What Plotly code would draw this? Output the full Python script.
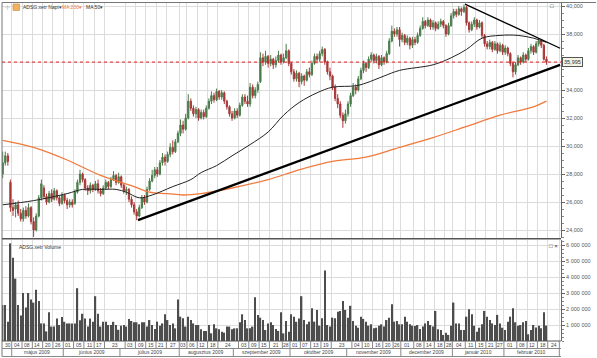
import plotly.graph_objects as go
import pandas as pd

# ---------------- data ----------------
first_day = "2009-04-27"
holidays = ["2009-05-01", "2009-12-24", "2009-12-25", "2009-12-31", "2010-01-01"]

open_ = [28.0,28.8,29.3,27.4,25.6,25.5,25.8,25.2,24.8,25.4,
 25.0,25.6,24.6,24.0,25.0,26.3,27.0,26.4,26.0,26.6,
 26.2,26.8,26.3,25.9,26.5,26.1,25.8,26.0,25.9,26.7,
 27.4,28.0,27.6,27.0,26.8,27.2,26.9,27.3,26.8,26.6,
 27.0,27.4,27.1,27.6,27.9,27.4,27.8,27.2,26.8,26.9,
 26.2,25.8,25.3,25.0,25.6,26.3,26.0,26.9,27.5,27.9,
 28.3,28.0,28.8,29.2,28.9,29.4,29.9,29.6,30.3,30.9,
 31.5,31.2,32.0,33.2,32.7,32.3,32.6,32.0,32.4,32.1,
 32.7,33.2,33.6,33.3,33.9,33.5,33.8,33.2,32.8,32.3,
 32.0,32.5,32.2,32.9,33.5,33.2,33.0,34.2,33.6,34.0,
 34.6,36.3,36.0,36.4,35.9,36.2,35.8,36.1,36.5,36.0,
 36.3,36.8,35.9,35.3,34.8,35.2,34.6,35.0,34.7,35.3,
 35.1,35.9,36.4,36.2,36.6,36.9,36.0,35.3,35.0,34.2,
 33.4,33.0,32.2,31.8,32.3,33.0,33.6,34.2,34.0,34.8,
 35.4,35.9,35.6,36.2,36.5,36.1,36.4,35.8,36.3,36.0,
 36.6,37.5,38.2,38.0,38.3,37.6,37.9,37.4,37.7,37.2,
 37.6,37.4,37.9,38.4,38.9,38.6,39.0,38.5,38.8,38.4,
 38.7,38.9,38.6,38.0,38.6,39.3,39.6,39.4,39.8,39.6,
 39.9,38.8,38.3,38.7,39.0,38.5,38.8,37.9,37.3,37.1,
 37.4,36.9,37.3,36.8,37.2,36.7,37.0,36.6,35.9,35.3,
 35.8,36.3,36.0,36.5,36.2,36.8,37.1,36.7,37.3,37.5,
 37.2,36.2]
high = [29.6,29.6,29.5,27.6,26.2,26.0,26.1,25.5,25.6,25.7,
 25.9,25.7,24.9,25.2,26.5,27.6,27.2,26.6,26.8,26.9,
 27.0,26.9,26.5,26.7,26.6,26.3,26.2,26.2,26.9,27.6,
 28.3,28.1,27.7,27.2,27.4,27.3,27.5,27.6,27.0,27.2,
 27.6,27.5,27.8,28.2,28.0,28.1,27.9,27.3,27.1,27.0,
 26.4,26.0,25.5,25.8,26.5,26.5,27.1,27.7,28.3,28.5,
 28.5,29.0,29.5,29.4,29.6,30.2,30.4,30.5,31.1,31.9,
 31.8,32.3,33.7,33.4,32.9,32.8,32.7,32.6,32.6,32.9,
 33.4,33.9,33.8,34.1,34.0,34.0,33.9,33.3,32.9,32.5,
 32.7,32.7,33.1,33.7,33.7,33.6,34.5,34.4,34.2,34.6,
 36.7,36.6,36.8,36.5,36.5,36.3,36.4,36.8,36.6,36.6,
 37.3,36.9,36.0,35.5,35.4,35.3,35.2,35.1,35.5,35.6,
 36.1,36.6,36.6,36.8,37.1,37.0,36.1,35.6,35.1,34.4,
 33.7,33.2,32.4,32.6,33.2,33.8,34.5,34.4,35.0,35.6,
 36.1,36.0,36.4,36.7,36.6,36.6,36.5,36.5,36.4,36.8,
 37.7,38.6,38.4,38.5,38.5,38.1,38.0,37.9,37.8,37.8,
 37.8,38.1,38.6,39.2,39.0,39.2,39.1,39.0,38.9,38.9,
 39.1,39.0,38.7,38.8,39.5,39.8,39.8,40.0,39.9,40.1,
 40.0,38.9,38.9,39.2,39.1,39.0,38.9,38.0,37.5,37.6,
 37.5,37.5,37.4,37.4,37.3,37.2,37.1,36.7,36.0,36.0,
 36.5,36.4,36.7,36.6,37.0,37.3,37.2,37.5,37.7,37.6,
 37.3,36.4]
low = [27.7,28.6,28.6,25.3,25.0,24.9,25.0,24.6,24.6,24.8,
 24.9,24.4,23.5,23.9,24.9,26.1,26.2,25.8,25.9,26.0,
 26.1,26.1,25.7,25.8,25.9,25.5,25.6,25.6,25.8,26.6,
 27.2,27.4,26.8,26.5,26.6,26.7,26.8,26.6,26.4,26.5,
 26.9,26.9,27.0,27.5,27.2,27.3,27.0,26.6,26.5,26.0,
 25.6,25.1,24.7,24.9,25.5,25.8,25.9,26.8,27.4,27.7,
 27.8,27.9,28.6,28.6,28.8,29.2,29.4,29.5,30.2,30.7,
 30.9,31.1,31.9,32.5,32.1,32.0,31.8,31.9,31.9,32.0,
 32.6,33.0,33.1,33.2,33.3,33.3,33.0,32.6,32.1,31.8,
 31.9,32.0,32.1,32.8,33.0,32.8,32.8,33.4,33.4,33.8,
 34.5,35.7,35.8,35.6,35.7,35.5,35.6,36.0,35.8,35.9,
 36.2,35.7,35.1,34.6,34.6,34.2,34.4,34.3,34.6,34.9,
 35.0,35.8,35.9,36.0,36.4,35.8,35.1,34.7,34.0,33.2,
 32.7,32.0,31.3,31.6,32.1,32.8,33.5,33.7,33.9,34.7,
 35.2,35.3,35.5,36.0,35.9,35.9,35.5,35.7,35.8,35.9,
 36.5,37.4,37.8,37.8,37.1,37.4,37.2,37.2,36.9,37.0,
 37.2,37.3,37.8,38.3,38.4,38.5,38.3,38.3,38.2,38.3,
 38.5,38.4,37.8,37.9,38.5,39.1,39.2,39.3,39.3,39.5,
 38.6,38.1,38.2,38.5,38.3,38.4,37.7,37.1,36.9,36.9,
 36.7,36.8,36.6,36.7,36.5,36.5,36.4,35.7,34.9,35.1,
 35.7,35.8,35.9,36.0,36.1,36.6,36.5,36.6,37.1,37.0,
 36.1,35.8]
close = [28.8,29.3,28.9,25.6,25.4,25.8,25.2,24.8,25.4,25.0,
 25.6,24.6,24.0,25.0,26.3,27.3,26.4,26.0,26.6,26.2,
 26.8,26.3,25.9,26.5,26.1,25.8,26.0,25.8,26.7,27.4,
 28.0,27.6,27.0,26.8,27.2,26.9,27.3,26.8,26.6,27.0,
 27.4,27.1,27.6,27.9,27.4,27.8,27.2,26.8,26.9,26.2,
 25.8,25.3,25.0,25.6,26.3,26.0,26.9,27.5,27.9,28.3,
 28.0,28.8,29.2,28.9,29.4,29.9,29.6,30.3,30.9,31.5,
 31.2,32.0,33.2,32.7,32.3,32.6,32.0,32.4,32.1,32.7,
 33.2,33.6,33.3,33.9,33.5,33.8,33.2,32.8,32.3,32.0,
 32.5,32.2,32.9,33.5,33.2,33.0,34.2,33.6,34.0,34.4,
 36.3,36.0,36.4,35.9,36.2,35.8,36.1,36.5,36.0,36.3,
 36.8,35.9,35.3,34.8,35.2,34.6,35.0,34.7,35.3,35.1,
 35.9,36.4,36.2,36.6,36.9,36.0,35.3,35.0,34.2,33.4,
 33.0,32.2,31.8,32.3,33.0,33.6,34.2,34.0,34.8,35.4,
 35.9,35.6,36.2,36.5,36.1,36.4,35.8,36.3,36.0,36.6,
 37.5,38.2,38.0,38.3,37.6,37.9,37.4,37.7,37.2,37.6,
 37.4,37.9,38.4,38.9,38.6,39.0,38.5,38.8,38.4,38.7,
 38.9,38.6,38.0,38.6,39.3,39.6,39.4,39.8,39.6,39.9,
 38.8,38.3,38.7,39.0,38.5,38.8,37.9,37.3,37.1,37.4,
 36.9,37.3,36.8,37.2,36.7,37.0,36.6,35.9,35.3,35.8,
 36.3,36.0,36.5,36.2,36.8,37.1,36.7,37.3,37.5,37.2,
 36.2,35.995]
volume_mln = [2.25,2.25,1.2,6.1,5.2,3.9,2.25,1.6,3.0,2.1,
 3.0,2.6,2.4,3.2,2.5,1.1,1.1,0.6,1.8,0.9,
 0.9,1.4,1.0,1.5,1.2,1.1,1.1,1.1,1.1,3.3,
 1.3,1.7,1.4,0.9,1.4,1.2,2.8,1.7,0.9,1.2,
 1.2,1.0,1.0,1.2,1.0,0.7,0.96,1.0,0.9,1.38,
 1.25,1.17,1.17,1.04,1.17,1.17,0.9,1.31,1.0,0.75,
 1.21,0.96,1.1,1.67,1.31,1.0,1.1,0.79,2.6,1.52,
 1.42,0.9,1.52,1.31,1.1,1.0,1.0,0.73,0.63,0.63,
 1.0,0.48,1.04,0.79,0.73,0.58,0.52,0.9,0.9,0.73,
 0.79,0.79,1.17,1.67,1.31,0.79,0.79,0.9,2.73,1.63,
 1.46,1.31,0.69,1.1,1.17,1.0,0.75,0.63,1.79,0.48,
 1.25,0.58,1.67,1.52,1.2,1.4,
 2.8,1.31,1.04,1.21,2.04,1.21,1.94,0.96,1.42,4.4,
 1.0,0.9,1.46,1.42,1.83,1.88,2.5,1.94,1.46,2.2,
 1.25,0.96,0.83,1.52,1.38,1.21,0.96,1.04,0.79,0.83,
 0.96,1.04,0.9,1.31,1.46,2.3,1.21,1.25,1.04,1.04,
 1.52,1.21,1.04,0.96,0.94,1.0,0.75,0.9,1.1,1.25,
 1.0,0.9,1.88,0.73,0.69,0.38,0.52,0.38,0.96,2.4,
 1.1,1.1,0.69,0.69,1.52,1.98,1.67,0.96,0.58,0.83,
 1.04,1.88,1.52,1.31,1.1,1.0,1.63,1.1,0.83,0.69,
 1.21,1.52,2.04,1.17,0.96,1.0,1.17,1.25,0.42,0.69,
 1.0,0.85,0.96,0.79,1.8,0.96]

ma200_idx = [0, 12, 25, 38, 51, 57, 64, 70, 77, 89, 103, 115, 128, 141, 154, 167, 180, 193, 206, 211]
ma200_val = [30.4, 29.9, 29.0, 27.9, 27.1, 26.7, 26.6, 26.5, 26.6, 27.0, 27.6, 28.3, 28.9, 29.2, 29.9, 30.6, 31.4, 32.2, 32.8, 33.2]
ma50_idx = [0, 12, 25, 31, 38, 44, 48, 53, 58, 66, 73, 77, 83, 89, 96, 103, 109, 115, 122, 128, 137, 141, 148, 154, 167, 174, 180, 186, 193, 200, 206, 211]
ma50_val = [25.8, 26.1, 26.6, 26.9, 26.9, 26.9, 26.7, 26.3, 26.5, 27.1, 27.6, 28.1, 28.6, 29.3, 30.1, 31.0, 32.2, 33.1, 33.8, 34.2, 34.3, 34.5, 35.0, 35.4, 35.8, 36.3, 36.9, 37.7, 37.9, 37.9, 37.7, 37.4]

trend_up_idx = [52.5, 216.3]
trend_up_val = [24.71, 35.79]
trend_dn_idx = [179.4, 216.3]
trend_dn_val = [40.14, 36.98]

last_price = 35.995
last_price_text = "35,995"

price_ticks = [24, 26, 28, 30, 32, 34, 36, 38, 40]
# the 36,000 label sits under the last-price box in the reference, so it is left blank
price_tick_text = ["24,000", "26,000", "28,000", "30,000", "32,000", "34,000", "", "38,000", "40,000"]
vol_ticks = [1e6, 2e6, 3e6, 4e6, 5e6, 6e6]
vol_tick_text = ["1 000 000", "2 000 000", "3 000 000", "4 000 000", "5 000 000", "6 000 000"]

day_label_dates = ["2009-05-04","2009-05-08","2009-05-14","2009-05-20","2009-05-26",
 "2009-06-01","2009-06-05","2009-06-11","2009-06-17","2009-06-23",
 "2009-07-03","2009-07-09","2009-07-15","2009-07-21","2009-07-27",
 "2009-08-03","2009-08-06","2009-08-12","2009-08-18","2009-08-24",
 "2009-09-03","2009-09-09","2009-09-15","2009-09-21","2009-09-28",
 "2009-10-01","2009-10-07","2009-10-13","2009-10-19","2009-10-23",
 "2009-11-04","2009-11-10","2009-11-16","2009-11-20","2009-11-26",
 "2009-12-01","2009-12-08","2009-12-14","2009-12-18","2009-12-28",
 "2010-01-04","2010-01-11","2010-01-15","2010-01-21","2010-01-27",
 "2010-02-01","2010-02-08","2010-02-12","2010-02-18","2010-02-24"]
month_starts = ["2009-05-04","2009-06-01","2009-07-01","2009-08-03","2009-09-01","2009-10-01",
                "2009-11-02","2009-12-01","2010-01-04","2010-02-01"]
month_names = ["május 2009","június 2009","július 2009","augusztus 2009","szeptember 2009",
               "október 2009","november 2009","december 2009","január 2010","február 2010"]

# ---------------- trading-day index ----------------
days = [d.strftime("%Y-%m-%d") for d in pd.bdate_range(first_day, "2010-03-05")]
days = [d for d in days if d not in holidays]
idx_of = {d: i for i, d in enumerate(days)}
n = len(close)
xi = list(range(n))
vol = [v * 1e6 for v in volume_mln]

# ---------------- geometry ----------------
W, H = 597, 358
ML, MR, MT, MB = 2, 36, 3, 17
PW, PH = W - ML - MR, H - MT - MB
XR = [-0.272, 216.65]

def px(xp):
    return (xp - ML) / PW

def py(yp):
    return (H - MB - yp) / PH

FONT = "Liberation Sans, Arial, sans-serif"
GRID = "#dcdcdc"

fig = go.Figure()

fig.add_trace(go.Bar(x=xi, y=vol, width=0.55, marker=dict(color="#4d4d4d", line=dict(width=0)),
                     xaxis="x2", yaxis="y2", hoverinfo="skip"))
fig.add_trace(go.Scatter(x=ma200_idx, y=ma200_val, mode="lines", line=dict(color="#f07a3c", width=1.3, shape="spline"),
                         xaxis="x", yaxis="y", hoverinfo="skip"))
fig.add_trace(go.Scatter(x=ma50_idx, y=ma50_val, mode="lines", line=dict(color="#222222", width=1, shape="spline"),
                         xaxis="x", yaxis="y", hoverinfo="skip"))
fig.add_trace(go.Candlestick(x=xi, open=open_, high=high, low=low, close=close,
                             increasing=dict(line=dict(color="#4a7d4a", width=1), fillcolor="#4a7d4a"),
                             decreasing=dict(line=dict(color="#a83838", width=1), fillcolor="#a83838"),
                             whiskerwidth=0, xaxis="x", yaxis="y", hoverinfo="skip"))
fig.add_trace(go.Scatter(x=trend_up_idx, y=trend_up_val, mode="lines", line=dict(color="#000000", width=2.3),
                         xaxis="x", yaxis="y", hoverinfo="skip"))
fig.add_trace(go.Scatter(x=trend_dn_idx, y=trend_dn_val, mode="lines", line=dict(color="#000000", width=1.3),
                         xaxis="x", yaxis="y", hoverinfo="skip"))

# cell boundaries for day labels
label_idx = [idx_of[d] for d in day_label_dates]
bounds = [li - 0.5 for li in label_idx] + [216.0]
month_idx = [idx_of[d] - 0.5 for d in month_starts] + [216.0]

price_top = 40 + 3 / 14.0
price_bot = 40 - (238 - 6) / 14.0

axis_common = dict(range=XR, showgrid=True, gridcolor=GRID, gridwidth=1, tickvals=bounds,
                   showticklabels=False, ticks="", zeroline=False, showline=False, fixedrange=True,
                   automargin=False)
fig.update_layout(
    width=W, height=H, margin=dict(l=ML, r=MR, t=MT, b=MB, autoexpand=False),
    paper_bgcolor="white", plot_bgcolor="white", showlegend=False,
    font=dict(family=FONT, size=6, color="#444"),
    xaxis=dict(domain=[0, 1], anchor="y", rangeslider=dict(visible=False), **axis_common),
    xaxis2=dict(domain=[0, 1], anchor="y2", matches="x", **axis_common),
    yaxis=dict(domain=[py(238), 1], range=[price_bot, price_top], side="right", automargin=False,
               tickvals=price_ticks, ticktext=price_tick_text, showgrid=True, gridcolor=GRID,
               ticks="outside", ticklen=3, tickcolor="#666", showline=True, linecolor="#666",
               linewidth=1, zeroline=False, tickfont=dict(size=5.5, color="#555"),
               minor=dict(ticks="outside", ticklen=1.5, dtick=0.5, tickcolor="#888", showgrid=False)),
    yaxis2=dict(domain=[0, py(240)], range=[0, 6.3125e6], side="right", automargin=False,
                tickvals=vol_ticks, ticktext=vol_tick_text, showgrid=True, gridcolor=GRID,
                ticks="outside", ticklen=3, tickcolor="#666", showline=True, linecolor="#666",
                linewidth=1, zeroline=False, tickfont=dict(size=5.5, color="#555"),
                minor=dict(ticks="outside", ticklen=1.5, dtick=250000, tickcolor="#888", showgrid=False)),
)

shapes = []
# last price dotted line
shapes.append(dict(type="line", xref="paper", x0=0, x1=1, yref="y", y0=last_price, y1=last_price,
                   line=dict(color="#e02020", width=1, dash="dot")))
# frame
shapes.append(dict(type="line", xref="paper", yref="paper", x0=0, x1=px(596), y0=py(2.5), y1=py(2.5),
                   line=dict(color="#777", width=1)))
shapes.append(dict(type="line", xref="paper", yref="paper", x0=0, x1=0, y0=py(356.5), y1=py(2.5),
                   line=dict(color="#777", width=1)))
# panel separator
shapes.append(dict(type="line", xref="paper", yref="paper", x0=0, x1=1, y0=py(238.8), y1=py(238.8),
                   line=dict(color="#555", width=1.5)))
# bottom axis rows
for yy, c in [(341, "#555"), (348.5, "#888"), (356.5, "#888")]:
    shapes.append(dict(type="line", xref="paper", yref="paper", x0=0, x1=1, y0=py(yy), y1=py(yy),
                       line=dict(color=c, width=1)))
for b in bounds:
    shapes.append(dict(type="line", xref="x", yref="paper", x0=b, x1=b, y0=py(341), y1=py(348.5),
                       line=dict(color="#888", width=1)))
for b in month_idx:
    shapes.append(dict(type="line", xref="x", yref="paper", x0=b, x1=b, y0=py(348.5), y1=py(356.5),
                       line=dict(color="#888", width=1)))
# legend icon
shapes.append(dict(type="rect", xref="paper", yref="paper", x0=px(13), x1=px(19.5), y0=py(10.5), y1=py(4),
                   fillcolor="#f2b25c", line=dict(color="#c88a3a", width=0.6)))
fig.update_layout(shapes=shapes)

ann = []
def txt(xp, yp, t, size=5.5, color="#444", xanchor="left"):
    ann.append(dict(xref="paper", yref="paper", x=px(xp), y=py(yp), text=t, showarrow=False,
                    xanchor=xanchor, yanchor="middle", font=dict(size=size, color=color, family=FONT)))

txt(3, 7, "-|-", 5, "#999")
txt(20.5, 7, "ADSG.xetr Napi▾", 5, "#333")
txt(60, 7, "MA 200▾", 5, "#f07a3c")
txt(84, 7, "MA 50▾", 5, "#333")
txt(548, 6.5, "□", 6, "#333")
txt(17, 247, "ADSG.xetr Volume", 5, "#333")
txt(547, 246, "□ ×", 6, "#333")

# day labels
for k, d in enumerate(day_label_dates):
    cx = (bounds[k] + bounds[k + 1]) / 2.0
    ann.append(dict(xref="x", yref="paper", x=cx, y=py(344.8), text=d[8:10], showarrow=False,
                    xanchor="center", yanchor="middle", font=dict(size=5, color="#444", family=FONT)))
ann.append(dict(xref="paper", yref="paper", x=px(2.5), y=py(344.8), text="30", showarrow=False,
                xanchor="left", yanchor="middle", font=dict(size=5, color="#444", family=FONT)))
for k, name in enumerate(month_names):
    cx = (month_idx[k] + month_idx[k + 1]) / 2.0
    ann.append(dict(xref="x", yref="paper", x=cx, y=py(352.5), text=name, showarrow=False,
                    xanchor="center", yanchor="middle", font=dict(size=5, color="#444", family=FONT)))
# last price box
ann.append(dict(xref="paper", yref="y", x=px(562), y=last_price, text=last_price_text, showarrow=False,
                xanchor="left", yanchor="middle", bgcolor="#f3f3e6", bordercolor="#555", borderwidth=1,
                borderpad=1, font=dict(size=5.5, color="#333", family=FONT)))
fig.update_layout(annotations=ann)

fig.write_html("out.html", config=dict(displayModeBar=False),
               post_script="document.body.style.margin='0px';document.body.style.padding='0px';")
